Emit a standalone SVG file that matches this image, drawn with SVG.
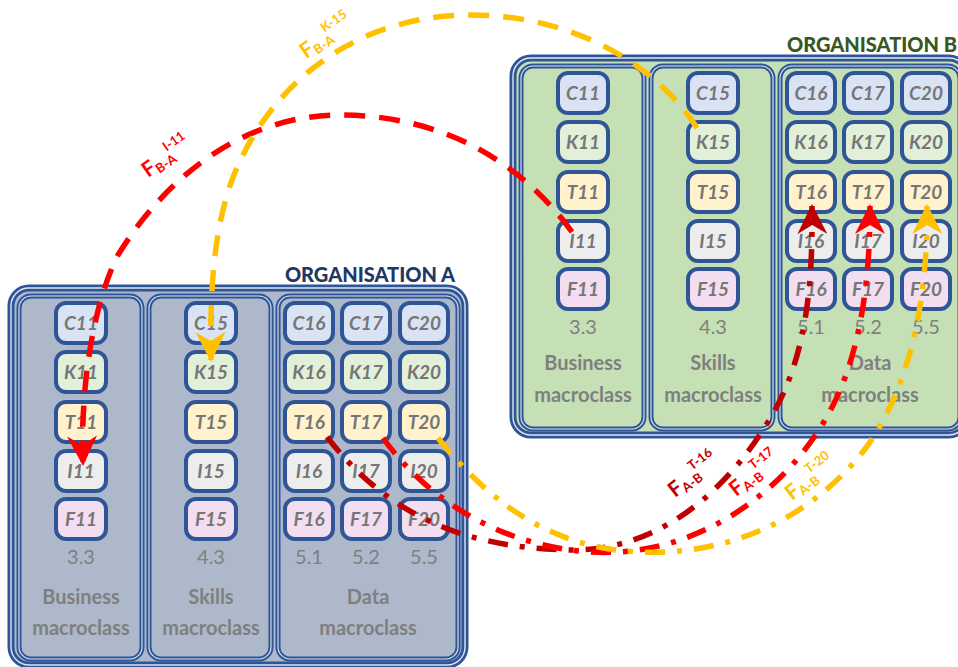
<svg xmlns="http://www.w3.org/2000/svg" width="958" height="667" viewBox="0 0 958 667">
<defs>
<style>
.ob{stroke:#2F5597;stroke-width:7}
.obl{fill:none;stroke:#DCE6F4;stroke-width:1.4}
.col{stroke:#2F5597;stroke-width:5}
.coll{fill:none;stroke:#DCE6F4;stroke-width:1.1}
.fa{fill:#ADB9CA}
.fb{fill:#C5E0B4}
.n{stroke:#2F5597;stroke-width:4}
.c{fill:#DAE3F3}.k{fill:#E2F0D9}.t{fill:#FFF2CC}.i{fill:#EDEDED}.f{fill:#F3DDF0}
.node text{font-family:Lato,"Open Sans",sans-serif;font-size:19px;font-weight:bold;font-style:italic;fill:#767676;text-anchor:middle}
.num{font-family:Lato,"Open Sans",sans-serif;font-size:20px;fill:#7F7F7F;text-anchor:middle}
.lab{font-family:Lato,"Open Sans",sans-serif;font-size:20px;font-weight:bold;fill:#7F7F7F;text-anchor:middle}
.org{font-family:Lato,"Open Sans",sans-serif;font-size:20px;font-weight:900;text-anchor:end}
.cn{fill:none;stroke-width:5.5}
.dash{stroke-dasharray:21 14}
.dd{stroke-dasharray:20 12 5 12}
.fl{font-family:Lato,"Open Sans",sans-serif;font-weight:bold}
</style>
<marker id="ar-red" viewBox="0 0 30 30" refX="28" refY="15" markerWidth="30" markerHeight="30" markerUnits="userSpaceOnUse" orient="auto"><path d="M0,0 L30,15 L0,30 L9,15 z" fill="#FF0000"/></marker>
<marker id="ar-org" viewBox="0 0 30 30" refX="28" refY="15" markerWidth="30" markerHeight="30" markerUnits="userSpaceOnUse" orient="auto"><path d="M0,0 L30,15 L0,30 L9,15 z" fill="#FFC000"/></marker>
<marker id="ar-dred" viewBox="0 0 30 30" refX="28" refY="15" markerWidth="30" markerHeight="30" markerUnits="userSpaceOnUse" orient="auto"><path d="M0,0 L30,15 L0,30 L9,15 z" fill="#C00000"/></marker>
</defs>
<rect width="958" height="667" fill="#FFFFFF"/>

<!-- ORGANISATION A -->
<g id="org-a">
<rect class="ob fa" x="11" y="288" width="454" height="377" rx="18"/>
<rect class="obl" x="11" y="288" width="454" height="377" rx="18"/>
<text class="org" x="455" y="282" fill="#1F3864">ORGANISATION A</text>
<g id="a-business">
<rect class="col fa" x="19" y="296" width="123" height="363" rx="12"/>
<rect class="coll" x="19" y="296" width="123" height="363" rx="12"/>
<text class="num" x="81" y="564">3.3</text>
<text class="lab" x="81" y="604">Business</text>
<text class="lab" x="81" y="635">macroclass</text>
</g>
<g id="a-skills">
<rect class="col fa" x="149" y="296" width="122" height="363" rx="12"/>
<rect class="coll" x="149" y="296" width="122" height="363" rx="12"/>
<text class="num" x="211" y="564">4.3</text>
<text class="lab" x="211" y="604">Skills</text>
<text class="lab" x="211" y="635">macroclass</text>
</g>
<g id="a-data">
<rect class="col fa" x="278" y="296" width="180" height="363" rx="12"/>
<rect class="coll" x="278" y="296" width="180" height="363" rx="12"/>
<text class="num" x="309" y="564">5.1</text>
<text class="num" x="366" y="564">5.2</text>
<text class="num" x="424" y="564">5.5</text>
<text class="lab" x="368" y="604">Data</text>
<text class="lab" x="368" y="635">macroclass</text>
</g>
<g id="a-C11" class="node"><rect class="n c" x="56" y="303" width="50" height="40" rx="10"/><text x="81" y="330">C11</text></g>
<g id="a-K11" class="node"><rect class="n k" x="56" y="352" width="50" height="40" rx="10"/><text x="81" y="379">K11</text></g>
<g id="a-T11" class="node"><rect class="n t" x="56" y="402" width="50" height="40" rx="10"/><text x="81" y="429">T11</text></g>
<g id="a-I11" class="node"><rect class="n i" x="56" y="451" width="50" height="40" rx="10"/><text x="81" y="478">I11</text></g>
<g id="a-F11" class="node"><rect class="n f" x="56" y="499" width="50" height="40" rx="10"/><text x="81" y="526">F11</text></g>
<g id="a-C15" class="node"><rect class="n c" x="186" y="303" width="50" height="40" rx="10"/><text x="211" y="330">C15</text></g>
<g id="a-K15" class="node"><rect class="n k" x="186" y="352" width="50" height="40" rx="10"/><text x="211" y="379">K15</text></g>
<g id="a-T15" class="node"><rect class="n t" x="186" y="402" width="50" height="40" rx="10"/><text x="211" y="429">T15</text></g>
<g id="a-I15" class="node"><rect class="n i" x="186" y="451" width="50" height="40" rx="10"/><text x="211" y="478">I15</text></g>
<g id="a-F15" class="node"><rect class="n f" x="186" y="499" width="50" height="40" rx="10"/><text x="211" y="526">F15</text></g>
<g id="a-C16" class="node"><rect class="n c" x="285" y="303" width="48" height="40" rx="10"/><text x="309" y="330">C16</text></g>
<g id="a-K16" class="node"><rect class="n k" x="285" y="352" width="48" height="40" rx="10"/><text x="309" y="379">K16</text></g>
<g id="a-T16" class="node"><rect class="n t" x="285" y="402" width="48" height="40" rx="10"/><text x="309" y="429">T16</text></g>
<g id="a-I16" class="node"><rect class="n i" x="285" y="451" width="48" height="40" rx="10"/><text x="309" y="478">I16</text></g>
<g id="a-F16" class="node"><rect class="n f" x="285" y="499" width="48" height="40" rx="10"/><text x="309" y="526">F16</text></g>
<g id="a-C17" class="node"><rect class="n c" x="342" y="303" width="48" height="40" rx="10"/><text x="366" y="330">C17</text></g>
<g id="a-K17" class="node"><rect class="n k" x="342" y="352" width="48" height="40" rx="10"/><text x="366" y="379">K17</text></g>
<g id="a-T17" class="node"><rect class="n t" x="342" y="402" width="48" height="40" rx="10"/><text x="366" y="429">T17</text></g>
<g id="a-I17" class="node"><rect class="n i" x="342" y="451" width="48" height="40" rx="10"/><text x="366" y="478">I17</text></g>
<g id="a-F17" class="node"><rect class="n f" x="342" y="499" width="48" height="40" rx="10"/><text x="366" y="526">F17</text></g>
<g id="a-C20" class="node"><rect class="n c" x="400" y="303" width="48" height="40" rx="10"/><text x="424" y="330">C20</text></g>
<g id="a-K20" class="node"><rect class="n k" x="400" y="352" width="48" height="40" rx="10"/><text x="424" y="379">K20</text></g>
<g id="a-T20" class="node"><rect class="n t" x="400" y="402" width="48" height="40" rx="10"/><text x="424" y="429">T20</text></g>
<g id="a-I20" class="node"><rect class="n i" x="400" y="451" width="48" height="40" rx="10"/><text x="424" y="478">I20</text></g>
<g id="a-F20" class="node"><rect class="n f" x="400" y="499" width="48" height="40" rx="10"/><text x="424" y="526">F20</text></g>
</g>

<!-- ORGANISATION B -->
<g id="org-b" transform="translate(502,-230)">
<rect class="ob fb" x="11" y="288" width="454" height="377" rx="18"/>
<rect class="obl" x="11" y="288" width="454" height="377" rx="18"/>
<text class="org" x="455" y="282" fill="#385723">ORGANISATION B</text>
<g id="b-business">
<rect class="col fb" x="19" y="296" width="123" height="363" rx="12"/>
<rect class="coll" x="19" y="296" width="123" height="363" rx="12"/>
<text class="num" x="81" y="564">3.3</text>
<text class="lab" x="81" y="600">Business</text>
<text class="lab" x="81" y="632">macroclass</text>
</g>
<g id="b-skills">
<rect class="col fb" x="149" y="296" width="122" height="363" rx="12"/>
<rect class="coll" x="149" y="296" width="122" height="363" rx="12"/>
<text class="num" x="211" y="564">4.3</text>
<text class="lab" x="211" y="600">Skills</text>
<text class="lab" x="211" y="632">macroclass</text>
</g>
<g id="b-data">
<rect class="col fb" x="278" y="296" width="180" height="363" rx="12"/>
<rect class="coll" x="278" y="296" width="180" height="363" rx="12"/>
<text class="num" x="309" y="564">5.1</text>
<text class="num" x="366" y="564">5.2</text>
<text class="num" x="424" y="564">5.5</text>
<text class="lab" x="368" y="600">Data</text>
<text class="lab" x="368" y="632">macroclass</text>
</g>
<g id="b-C11" class="node"><rect class="n c" x="56" y="303" width="50" height="40" rx="10"/><text x="81" y="330">C11</text></g>
<g id="b-K11" class="node"><rect class="n k" x="56" y="352" width="50" height="40" rx="10"/><text x="81" y="379">K11</text></g>
<g id="b-T11" class="node"><rect class="n t" x="56" y="402" width="50" height="40" rx="10"/><text x="81" y="429">T11</text></g>
<g id="b-I11" class="node"><rect class="n i" x="56" y="451" width="50" height="40" rx="10"/><text x="81" y="478">I11</text></g>
<g id="b-F11" class="node"><rect class="n f" x="56" y="499" width="50" height="40" rx="10"/><text x="81" y="526">F11</text></g>
<g id="b-C15" class="node"><rect class="n c" x="186" y="303" width="50" height="40" rx="10"/><text x="211" y="330">C15</text></g>
<g id="b-K15" class="node"><rect class="n k" x="186" y="352" width="50" height="40" rx="10"/><text x="211" y="379">K15</text></g>
<g id="b-T15" class="node"><rect class="n t" x="186" y="402" width="50" height="40" rx="10"/><text x="211" y="429">T15</text></g>
<g id="b-I15" class="node"><rect class="n i" x="186" y="451" width="50" height="40" rx="10"/><text x="211" y="478">I15</text></g>
<g id="b-F15" class="node"><rect class="n f" x="186" y="499" width="50" height="40" rx="10"/><text x="211" y="526">F15</text></g>
<g id="b-C16" class="node"><rect class="n c" x="285" y="303" width="48" height="40" rx="10"/><text x="309" y="330">C16</text></g>
<g id="b-K16" class="node"><rect class="n k" x="285" y="352" width="48" height="40" rx="10"/><text x="309" y="379">K16</text></g>
<g id="b-T16" class="node"><rect class="n t" x="285" y="402" width="48" height="40" rx="10"/><text x="309" y="429">T16</text></g>
<g id="b-I16" class="node"><rect class="n i" x="285" y="451" width="48" height="40" rx="10"/><text x="309" y="478">I16</text></g>
<g id="b-F16" class="node"><rect class="n f" x="285" y="499" width="48" height="40" rx="10"/><text x="309" y="526">F16</text></g>
<g id="b-C17" class="node"><rect class="n c" x="342" y="303" width="48" height="40" rx="10"/><text x="366" y="330">C17</text></g>
<g id="b-K17" class="node"><rect class="n k" x="342" y="352" width="48" height="40" rx="10"/><text x="366" y="379">K17</text></g>
<g id="b-T17" class="node"><rect class="n t" x="342" y="402" width="48" height="40" rx="10"/><text x="366" y="429">T17</text></g>
<g id="b-I17" class="node"><rect class="n i" x="342" y="451" width="48" height="40" rx="10"/><text x="366" y="478">I17</text></g>
<g id="b-F17" class="node"><rect class="n f" x="342" y="499" width="48" height="40" rx="10"/><text x="366" y="526">F17</text></g>
<g id="b-C20" class="node"><rect class="n c" x="400" y="303" width="48" height="40" rx="10"/><text x="424" y="330">C20</text></g>
<g id="b-K20" class="node"><rect class="n k" x="400" y="352" width="48" height="40" rx="10"/><text x="424" y="379">K20</text></g>
<g id="b-T20" class="node"><rect class="n t" x="400" y="402" width="48" height="40" rx="10"/><text x="424" y="429">T20</text></g>
<g id="b-I20" class="node"><rect class="n i" x="400" y="451" width="48" height="40" rx="10"/><text x="424" y="478">I20</text></g>
<g id="b-F20" class="node"><rect class="n f" x="400" y="499" width="48" height="40" rx="10"/><text x="424" y="526">F20</text></g>
</g>

<!-- CONNECTORS -->
<g id="connectors">
<path id="f-ba-i11" class="cn dash" stroke="#FF0000" d="M572,232 C520,160 440,115 340,115 C250,115 170,170 118,255 C95,300 80,380 83,464" marker-end="url(#ar-red)"/>
<path id="f-ba-k15" class="cn dash" stroke="#FFC000" d="M697,128 C660,70 580,15 470,15 C360,15 270,80 232,180 C212,235 210,300 211,360" marker-end="url(#ar-org)"/>
<path id="f-ab-t16" class="cn dd" stroke="#C00000" d="M327,437 C380,505 450,548 570,550 C660,551 730,490 775,410 C805,355 813,290 812,206" marker-end="url(#ar-dred)"/>
<path id="f-ab-t17" class="cn dd" stroke="#FF0000" d="M383,438 C420,490 490,545 590,552 C690,558 770,500 812,440 C852,385 870,310 870,206" marker-end="url(#ar-red)"/>
<path id="f-ab-t20" class="cn dd" stroke="#FFC000" d="M438,438 C480,490 540,548 640,552 C740,556 820,510 868,445 C910,385 928,300 927,206" marker-end="url(#ar-org)"/>
<text class="fl" fill="#FF0000" transform="translate(148,178) rotate(-35)"><tspan font-size="21">F</tspan><tspan font-size="13" dy="3">B-A</tspan><tspan font-size="13" dx="-4" dy="-14">I-11</tspan></text>
<text class="fl" fill="#FFC000" transform="translate(306,59) rotate(-35)"><tspan font-size="21">F</tspan><tspan font-size="13" dy="3">B-A</tspan><tspan font-size="13" dx="-4" dy="-14">K-15</tspan></text>
<text class="fl" fill="#C00000" transform="translate(675,498) rotate(-38)"><tspan font-size="21">F</tspan><tspan font-size="13" dy="3">A-B</tspan><tspan font-size="13" dx="-4" dy="-14">T-16</tspan></text>
<text class="fl" fill="#FF0000" transform="translate(736,497) rotate(-38)"><tspan font-size="21">F</tspan><tspan font-size="13" dy="3">A-B</tspan><tspan font-size="13" dx="-4" dy="-14">T-17</tspan></text>
<text class="fl" fill="#FFC000" transform="translate(792,501) rotate(-38)"><tspan font-size="21">F</tspan><tspan font-size="13" dy="3">A-B</tspan><tspan font-size="13" dx="-4" dy="-14">T-20</tspan></text>
</g>
</svg>
